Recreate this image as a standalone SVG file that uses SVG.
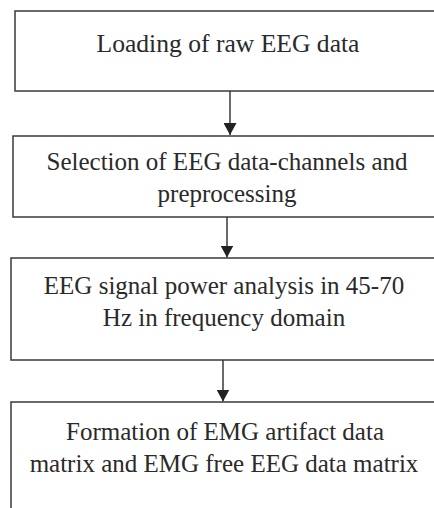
<svg xmlns="http://www.w3.org/2000/svg" width="434" height="508" viewBox="0 0 434 508">
<style>
.box{fill:#fff;stroke:#3a3a3a;stroke-width:1.5}
.lbl{font-family:'Liberation Serif','Times New Roman',serif;font-size:25px;fill:#2a2a2a;text-anchor:middle}
.conn{stroke:#3a3a3a;stroke-width:1.5;fill:none}
</style>
<defs>
<marker id="ah" markerUnits="userSpaceOnUse" markerWidth="13" markerHeight="13" refX="12" refY="6.5" orient="auto">
<path d="M0,0 L12,6.5 L0,13 Z" fill="#222"/>
</marker>
</defs>
<rect width="434" height="508" fill="#fff"/>
<g id="connectors">
<line class="conn" x1="230" y1="91" x2="230" y2="135" marker-end="url(#ah)"/>
<line class="conn" x1="227" y1="217" x2="227" y2="257.5" marker-end="url(#ah)"/>
<line class="conn" x1="223" y1="360" x2="223" y2="401.5" marker-end="url(#ah)"/>
</g>
<g id="n1">
<rect class="box" x="15" y="11" width="440" height="80"/>
<text class="lbl" x="228" y="52" style="font-size:25.6px">Loading of raw EEG data</text>
</g>
<g id="n2">
<rect class="box" x="13" y="136" width="440" height="81"/>
<text class="lbl" x="227" y="170">Selection of EEG data-channels and</text>
<text class="lbl" x="227" y="202">preprocessing</text>
</g>
<g id="n3">
<rect class="box" x="11" y="258" width="440" height="102"/>
<text class="lbl" x="224" y="294">EEG signal power analysis in 45-70</text>
<text class="lbl" x="224" y="326">Hz in frequency domain</text>
</g>
<g id="n4">
<rect class="box" x="11" y="402" width="440" height="140"/>
<text class="lbl" x="225" y="440">Formation of EMG artifact data</text>
<text class="lbl" x="224" y="472">matrix and EMG free EEG data matrix</text>
</g>
</svg>
